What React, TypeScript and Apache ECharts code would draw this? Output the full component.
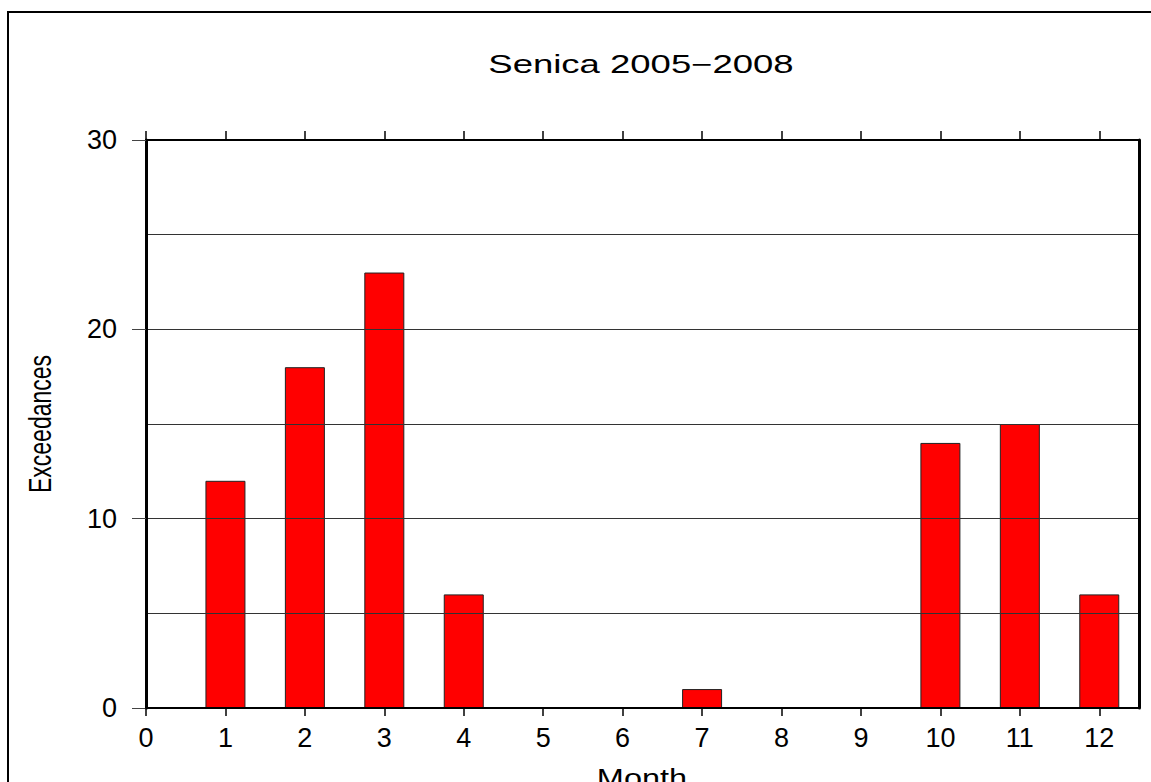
import React, { useEffect, useRef } from "react";
import * as echarts from "echarts";

const months = [1, 2, 3, 4, 5, 6, 7, 8, 9, 10, 11, 12];
const exceedances = [12, 18, 23, 6, 0, 0, 1, 0, 0, 14, 15, 6];
const xTickValues = [0, 1, 2, 3, 4, 5, 6, 7, 8, 9, 10, 11, 12];
const titleText = "Senica 2005\u22122008";
const xName = "Month";
const yName = "Exceedances";

const FONT = "'Liberation Sans', Arial, Helvetica, sans-serif";

export default function App() {
  const ref = useRef<HTMLDivElement>(null);
  useEffect(() => {
    if (!ref.current) return;
    const chart = echarts.init(ref.current, undefined, { renderer: "svg" });
    const data = months.map((m, i) => [m, exceedances[i]]);
    chart.setOption({
      animation: false,
      backgroundColor: "#ffffff",
      grid: { left: 146, right: 12, top: 140, bottom: 74, containLabel: false },
      xAxis: [
        {
          type: "value",
          position: "bottom",
          min: 0,
          max: 12.5,
          interval: 1,
          z: 12,
          axisLine: { show: true, onZero: false, lineStyle: { color: "#000", width: 2 } },
          axisTick: { show: true, customValues: xTickValues, length: 8, lineStyle: { color: "#000", width: 1.5 } },
          axisLabel: { show: true, customValues: xTickValues, margin: 16, fontSize: 27, fontFamily: FONT, color: "#000" },
          splitLine: { show: false },
        },
        {
          type: "value",
          position: "top",
          min: 0,
          max: 12.5,
          interval: 1,
          z: 12,
          axisLine: { show: true, onZero: false, lineStyle: { color: "#000", width: 2 } },
          axisTick: { show: true, customValues: xTickValues, length: 9, lineStyle: { color: "#000", width: 1.5 } },
          axisLabel: { show: false },
          splitLine: { show: false },
        },
      ],
      yAxis: [
        {
          type: "value",
          position: "left",
          min: 0,
          max: 30,
          interval: 10,
          z: 12,
          axisLine: { show: true, onZero: false, lineStyle: { color: "#000", width: 3 } },
          axisTick: { show: true, length: 14, lineStyle: { color: "#444", width: 1 } },
          axisLabel: { show: true, margin: 29, fontSize: 27, fontFamily: FONT, color: "#000" },
          splitLine: { show: false },
        },
        {
          type: "value",
          position: "right",
          min: 0,
          max: 30,
          interval: 5,
          z: 10,
          axisLine: { show: true, onZero: false, lineStyle: { color: "#000", width: 3 } },
          axisTick: { show: false },
          axisLabel: { show: false },
          splitLine: { show: true, showMinLine: false, showMaxLine: false, lineStyle: { color: "#333", width: 1 } },
        },
      ],
      series: [
        {
          type: "bar",
          xAxisIndex: 0,
          yAxisIndex: 0,
          data,
          barWidth: 40,
          z: 2,
          itemStyle: { color: "#ff0000", borderColor: "#222", borderWidth: 1 },
        },
      ],
      graphic: [
        {
          type: "rect",
          silent: true,
          shape: { x: 8, y: 12, width: 1200, height: 900 },
          style: { fill: "none", stroke: "#000", lineWidth: 2 },
        },
        {
          type: "text",
          silent: true,
          x: 641,
          y: 65,
          scaleX: 1.46,
          style: { text: titleText, fontSize: 25, fontFamily: FONT, fill: "#000", align: "center", verticalAlign: "middle" },
        },
        {
          type: "text",
          silent: true,
          x: 40,
          y: 424,
          rotation: Math.PI / 2,
          scaleY: 1.4,
          style: { text: yName, fontSize: 23, fontFamily: FONT, fill: "#000", align: "center", verticalAlign: "middle" },
        },
        {
          type: "text",
          silent: true,
          x: 642,
          y: 778,
          scaleX: 1.3,
          style: { text: xName, fontSize: 25, fontFamily: FONT, fill: "#000", align: "center", verticalAlign: "middle" },
        },
      ],
    });
    return () => chart.dispose();
  }, []);
  return (
    <div
      ref={ref}
      style={{ position: "fixed", left: 0, top: 0, width: 1151, height: 782, background: "#fff" }}
    />
  );
}
